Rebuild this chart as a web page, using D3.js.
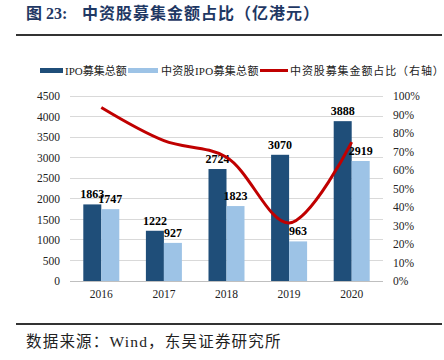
<!DOCTYPE html>
<html><head><meta charset="utf-8">
<script src="https://cdn.jsdelivr.net/npm/d3@7"></script>
<style>body{margin:0;background:#fff}</style>
</head><body><svg id="c" width="444" height="360"></svg>
<script>
const years = ["2016","2017","2018","2019","2020"];
const ipoTotal = [1863,1222,2724,3070,3888];
const chinaIpo = [1747,927,1823,963,2919];
const ratio = [0.938,0.759,0.669,0.314,0.751];
const leftTicks = [0,500,1000,1500,2000,2500,3000,3500,4000,4500];
const rightTicks = [0,0.1,0.2,0.3,0.4,0.5,0.6,0.7,0.8,0.9,1.0];

const svg = d3.select("#c");
const serif = "'Liberation Serif','Times New Roman',serif";
const cjk = "'Liberation Serif','Noto Sans CJK SC',serif";

// title
const t = svg.append("text").attr("y",19).attr("font-family",cjk).attr("font-weight","bold")
  .attr("font-size",16).attr("fill","#1f3864");
t.append("tspan").attr("x",26).text("图 23:");
t.append("tspan").attr("x",82).attr("letter-spacing",1).text("中资股募集金额占比（亿港元）");
svg.append("line").attr("x1",16).attr("x2",442).attr("y1",35).attr("y2",35).attr("stroke","#333").attr("stroke-width",2);

const x0 = d3.scaleBand().domain(years).range([70,383]).paddingInner(0).paddingOuter(0);
const x1 = d3.scaleBand().domain(["a","b"]).range([x0.bandwidth()/2-18, x0.bandwidth()/2+18]);
const yL = d3.scaleLinear().domain([0,4500]).range([281,96]);
const yR = d3.scaleLinear().domain([0,1]).range([281,96]);

// grid
svg.append("g").selectAll("line").data(leftTicks).join("line")
  .attr("x1",70).attr("x2",383).attr("y1",d=>yL(d)).attr("y2",d=>yL(d))
  .attr("stroke",d=>d===0?"#bfbfbf":"#d9d9d9").attr("stroke-width",1).attr("shape-rendering","crispEdges");

// axes
const gl = svg.append("g").attr("transform","translate(70,0)")
  .call(d3.axisLeft(yL).tickValues(leftTicks).tickSize(0).tickPadding(10).tickFormat(d3.format("d")));
const gr = svg.append("g").attr("transform","translate(383,0)")
  .call(d3.axisRight(yR).tickValues(rightTicks).tickSize(0).tickPadding(10).tickFormat(d3.format(".0%")));
const gx = svg.append("g").attr("transform","translate(0,281)")
  .call(d3.axisBottom(x0).tickSize(0).tickPadding(9));
[gl,gr,gx].forEach(g=>{g.select(".domain").remove();
  g.selectAll("text").attr("font-family",serif).attr("font-size",11.5).attr("fill","#222");});

// bars
const bars = svg.append("g");
years.forEach((yr,i)=>{
  const g = bars.append("g").attr("transform",`translate(${x0(yr)},0)`);
  [["a",ipoTotal[i],"#1f4e79"],["b",chinaIpo[i],"#9dc3e6"]].forEach(([k,v,c])=>{
    g.append("rect").attr("x",x1(k)).attr("width",x1.bandwidth()).attr("y",yL(v)).attr("height",281-yL(v)).attr("fill",c);
    g.append("text").attr("x",x1(k)+x1.bandwidth()/2).attr("y",yL(v)-6).attr("text-anchor","middle")
      .attr("font-family",serif).attr("font-weight","bold").attr("font-size",12).attr("fill","#000").text(v);
  });
});

// line
const line = d3.line().x((d,i)=>x0(years[i])+x0.bandwidth()/2).y(d=>yR(d)).curve(d3.curveCatmullRom.alpha(0.5));
svg.append("path").attr("d",line(ratio)).attr("fill","none").attr("stroke","#c00000").attr("stroke-width",3);

// legend
const lg = svg.append("g");
lg.append("rect").attr("x",40).attr("y",68).attr("width",23).attr("height",5).attr("fill","#1f4e79");
lg.append("text").attr("x",65).attr("y",74.5).attr("font-family",cjk).attr("font-size",11).attr("fill","#222").text("IPO募集总额");
lg.append("rect").attr("x",128).attr("y",68).attr("width",30).attr("height",5).attr("fill","#9dc3e6");
lg.append("text").attr("x",161).attr("y",74.5).attr("font-family",cjk).attr("font-size",11).attr("letter-spacing",0.3).attr("fill","#222").text("中资股IPO募集总额");
lg.append("line").attr("x1",260).attr("x2",288).attr("y1",70.5).attr("y2",70.5).attr("stroke","#c00000").attr("stroke-width",3);
lg.append("text").attr("x",290).attr("y",74.5).attr("font-family",cjk).attr("font-size",11).attr("letter-spacing",0.9).attr("fill","#222").text("中资股募集金额占比（右轴）");

// footer
svg.append("line").attr("x1",16).attr("x2",442).attr("y1",324).attr("y2",324).attr("stroke","#333").attr("stroke-width",2);
svg.append("text").attr("x",26).attr("y",347).attr("font-family",cjk).attr("font-size",15.5).attr("letter-spacing",1.2).attr("fill","#222").text("数据来源：Wind，东吴证券研究所");
</script></body></html>
